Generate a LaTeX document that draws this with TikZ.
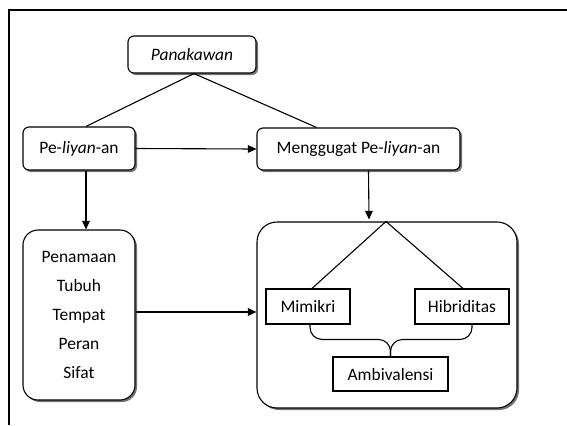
\documentclass[tikz,border=0pt]{standalone}
\usepackage{fontspec}
\setmainfont{Carlito}
\usetikzlibrary{arrows.meta,calc,shadows}
\begin{document}
\begin{tikzpicture}[x=1bp,y=-1bp,>={Triangle[length=8.5bp,width=7.5bp]},line width=1.1bp,
	font=\fontsize{17.5}{29}\selectfont,
	box/.style={draw,fill=white,rounded corners=#1,inner sep=0pt,align=center,
		drop shadow={shadow xshift=2bp,shadow yshift=-2bp,fill=black!55,opacity=1}},
	box/.default=6bp,
	item/.style={draw,fill=white,inner sep=0pt}]
		\useasboundingbox (0,0) rectangle (567,425);
		\draw (9,425) -- (9,10) -- (567,10);
		\node[box,minimum width=128bp,minimum height=37bp] (pana) at (192,54.5) {\textit{Panakawan}};
		\node[box,minimum width=112bp,minimum height=43bp] (liyan) at (79,148.5) {Pe-\textit{liyan}-an};
		\node[box,minimum width=203bp,minimum height=42bp] (gugat) at (358.5,149) {Menggugat Pe-\textit{liyan}-an};
		\node[box=15bp,minimum width=112bp,minimum height=170bp] (daftar) at (79,315)
			{Penamaan\\Tubuh\\Tempat\\Peran\\Sifat};
		\node[box=20bp,minimum width=260bp,minimum height=186bp] (ruang) at (387,315) {};
		\node[item,minimum width=84bp,minimum height=35bp] (mimikri) at (308,306.5) {Mimikri};
		\node[item,minimum width=94bp,minimum height=35bp] (hibrid) at (462,306.5) {Hibriditas};
		\node[item,minimum width=115bp,minimum height=34bp] (ambi) at (390.5,374) {Ambivalensi};
		\coordinate (puncak) at ([xshift=-1bp]ruang.north);
		\draw ([xshift=2bp]pana.south) -- ([xshift=7bp]liyan.north);
		\draw ([xshift=2bp]pana.south) -- ([xshift=-42bp]gugat.north);
		\draw[->] (liyan.east) -- (gugat.west);
		\draw[->] ([xshift=7bp]liyan.south) -- ([xshift=7bp]daftar.north);
		\draw[->] ([xshift=10bp]gugat.south) -- ([yshift=2bp,xshift=-17bp]puncak);
		\draw[->] ([yshift=3bp]daftar.east) -- ([yshift=3bp]ruang.west);
		\draw (puncak) -- ([xshift=4bp]mimikri.north);
		\draw (puncak) -- ([xshift=1bp]hibrid.north);
		\draw[rounded corners=12bp] ([xshift=2bp]mimikri.south) |- ($(ambi.north)+(0,-17)$) -- (ambi.north);
		\draw[rounded corners=12bp] ([xshift=10bp]hibrid.south) |- ($(ambi.north)+(0,-17)$) -- (ambi.north);
	\end{tikzpicture}
\end{document}
